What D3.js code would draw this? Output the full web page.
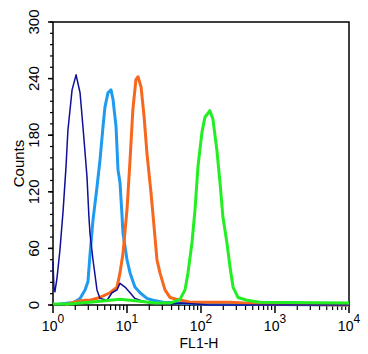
<!DOCTYPE html>
<html>
<head>
<meta charset="utf-8">
<script src="https://cdn.jsdelivr.net/npm/d3@7"></script>
<style>
  body { margin: 0; background: #fff; }
  svg { display: block; font-family: "Liberation Sans", Arial, sans-serif; }
</style>
</head>
<body>
<svg width="368" height="354"></svg>
<script>
const width = 368, height = 354;
const svg = d3.select("svg");

// FL1-H channel values and counts, one pair of arrays per overlay
const navyFL1 = [1.0, 1.03, 1.06, 1.13, 1.24, 1.37, 1.5, 1.59, 1.81, 2.05, 2.32, 2.54, 2.88, 3.06, 3.16, 3.47, 3.93, 4.32, 5.37, 6.27, 7.33, 8.04, 9.4, 11.0, 12.8, 15.0, 20.4, 38, 52, 83, 130, 10000];
const navyCounts = [46, 18, 14, 28, 58, 100, 147, 185, 228, 244, 225, 189, 136, 93, 76, 48, 16, 7, 5, 13, 16, 23, 19, 13, 7, 5, 2, 1, 2, 1, 0, 0];

const blueFL1 = [1.24, 1.55, 1.86, 2.32, 2.71, 2.97, 3.16, 3.47, 3.93, 4.32, 4.74, 5.04, 5.53, 6.08, 6.47, 7.11, 7.56, 8.04, 8.56, 8.83, 10.0, 11.0, 12.8, 15.0, 18.6, 22.4, 30.6, 52, 97, 10000];
const blueCounts = [1, 2, 2, 7, 16, 25, 53, 90, 125, 154, 189, 210, 225, 228, 218, 189, 143, 130, 95, 76, 48, 34, 19, 13, 7, 5, 3, 2, 1, 0];

const orangeFL1 = [1.45, 1.7, 2.18, 2.71, 3.16, 4.32, 5.89, 7.33, 8.04, 8.83, 10.0, 11.0, 12.0, 13.2, 14.1, 15.5, 17.0, 18.6, 21.1, 23.2, 25.4, 27.9, 32.6, 38.1, 47.4, 71, 247, 627, 10000];
const orangeCounts = [0, 2, 4, 5, 5, 8, 13, 19, 34, 55, 101, 154, 207, 239, 242, 231, 200, 161, 119, 83, 48, 34, 16, 8, 6, 3, 3, 1, 0];

const greenFL1 = [1.0, 1.7, 2.32, 3.16, 4.32, 5.89, 8.04, 11.0, 15.0, 23.9, 38.1, 52, 60.8, 66.7, 75.5, 83.0, 91.1, 103, 113, 132, 145, 164, 181, 198, 224, 247, 271, 316, 419, 627, 10000];
const greenCounts = [1, 1, 2, 3, 4, 5, 6, 5, 4, 2, 2, 6, 16, 34, 66, 101, 147, 183, 199, 206, 197, 164, 129, 93, 66, 40, 19, 8, 5, 3, 2];

const yTicks = [0, 60, 120, 180, 240, 300];
const xDecades = [0, 1, 2, 3, 4];

// scales
const x = d3.scaleLog().domain([1, 10000]).range([53, 349]);
const y = d3.scaleLinear().domain([0, 300]).range([305, 22]);

// frame: left, top, right, bottom
svg.append("path")
    .attr("d", `M${x(1)},${y(0)}V${y(300)}H${x(10000)}V${y(0)}Z`)
    .attr("fill", "none")
    .attr("stroke", "#000")
    .attr("stroke-width", 1.5);

// y axis: major ticks every 60, minor every 12
const yMinor = d3.range(0, 301, 12);
svg.selectAll(".ytick-minor")
    .data(yMinor)
    .enter().append("line")
    .attr("x1", x(1) - 3).attr("x2", x(1))
    .attr("y1", d => y(d)).attr("y2", d => y(d))
    .attr("stroke", "#000").attr("stroke-width", 1.2);

svg.selectAll(".ytick")
    .data(yTicks)
    .enter().append("line")
    .attr("x1", x(1) - 5).attr("x2", x(1))
    .attr("y1", d => y(d)).attr("y2", d => y(d))
    .attr("stroke", "#000").attr("stroke-width", 1.5);

svg.selectAll(".ylabel")
    .data(yTicks)
    .enter().append("text")
    .attr("transform", d => `translate(39,${y(d)}) rotate(-90)`)
    .attr("text-anchor", "middle")
    .style("font-size", "15px")
    .text(d => d);

svg.append("text")
    .attr("transform", `translate(24,${y(150)}) rotate(-90)`)
    .attr("text-anchor", "middle")
    .style("font-size", "15px")
    .text("Counts");

// x axis: decade ticks plus 2..9 minor ticks
const xMinor = [];
xDecades.slice(0, 4).forEach(p => {
    for (let m = 2; m <= 9; m++) xMinor.push(m * Math.pow(10, p));
});

svg.selectAll(".xtick-minor")
    .data(xMinor)
    .enter().append("line")
    .attr("x1", d => x(d)).attr("x2", d => x(d))
    .attr("y1", y(0)).attr("y2", y(0) + 5)
    .attr("stroke", "#000").attr("stroke-width", 1.2);

svg.selectAll(".xtick")
    .data(xDecades)
    .enter().append("line")
    .attr("x1", d => x(Math.pow(10, d))).attr("x2", d => x(Math.pow(10, d)))
    .attr("y1", y(0)).attr("y2", y(0) + 8)
    .attr("stroke", "#000").attr("stroke-width", 1.5);

const xLabels = svg.selectAll(".xlabel")
    .data(xDecades)
    .enter().append("text")
    .attr("x", d => x(Math.pow(10, d)))
    .attr("y", 331)
    .attr("text-anchor", "middle")
    .style("font-size", "14px");
xLabels.append("tspan").text("10");
xLabels.append("tspan")
    .attr("dy", -8)
    .style("font-size", "12px")
    .text(d => d);

svg.append("text")
    .attr("x", 199)
    .attr("y", 348)
    .attr("text-anchor", "middle")
    .style("font-size", "14px")
    .text("FL1-H");

// histogram overlays
const line = d3.line().x(d => x(d[0])).y(d => y(d[1]));
const series = [
    { fl1: blueFL1, counts: blueCounts, color: "#1e9bf0", w: 3 },
    { fl1: orangeFL1, counts: orangeCounts, color: "#f7671d", w: 3 },
    { fl1: navyFL1, counts: navyCounts, color: "#0f0f98", w: 1.5 },
    { fl1: greenFL1, counts: greenCounts, color: "#22ee22", w: 3 }
];

series.forEach(s => {
    svg.append("path")
        .datum(d3.zip(s.fl1, s.counts))
        .attr("fill", "none")
        .attr("stroke", s.color)
        .attr("stroke-width", s.w)
        .attr("stroke-linejoin", "round")
        .attr("d", line);
});
</script>
</body>
</html>
